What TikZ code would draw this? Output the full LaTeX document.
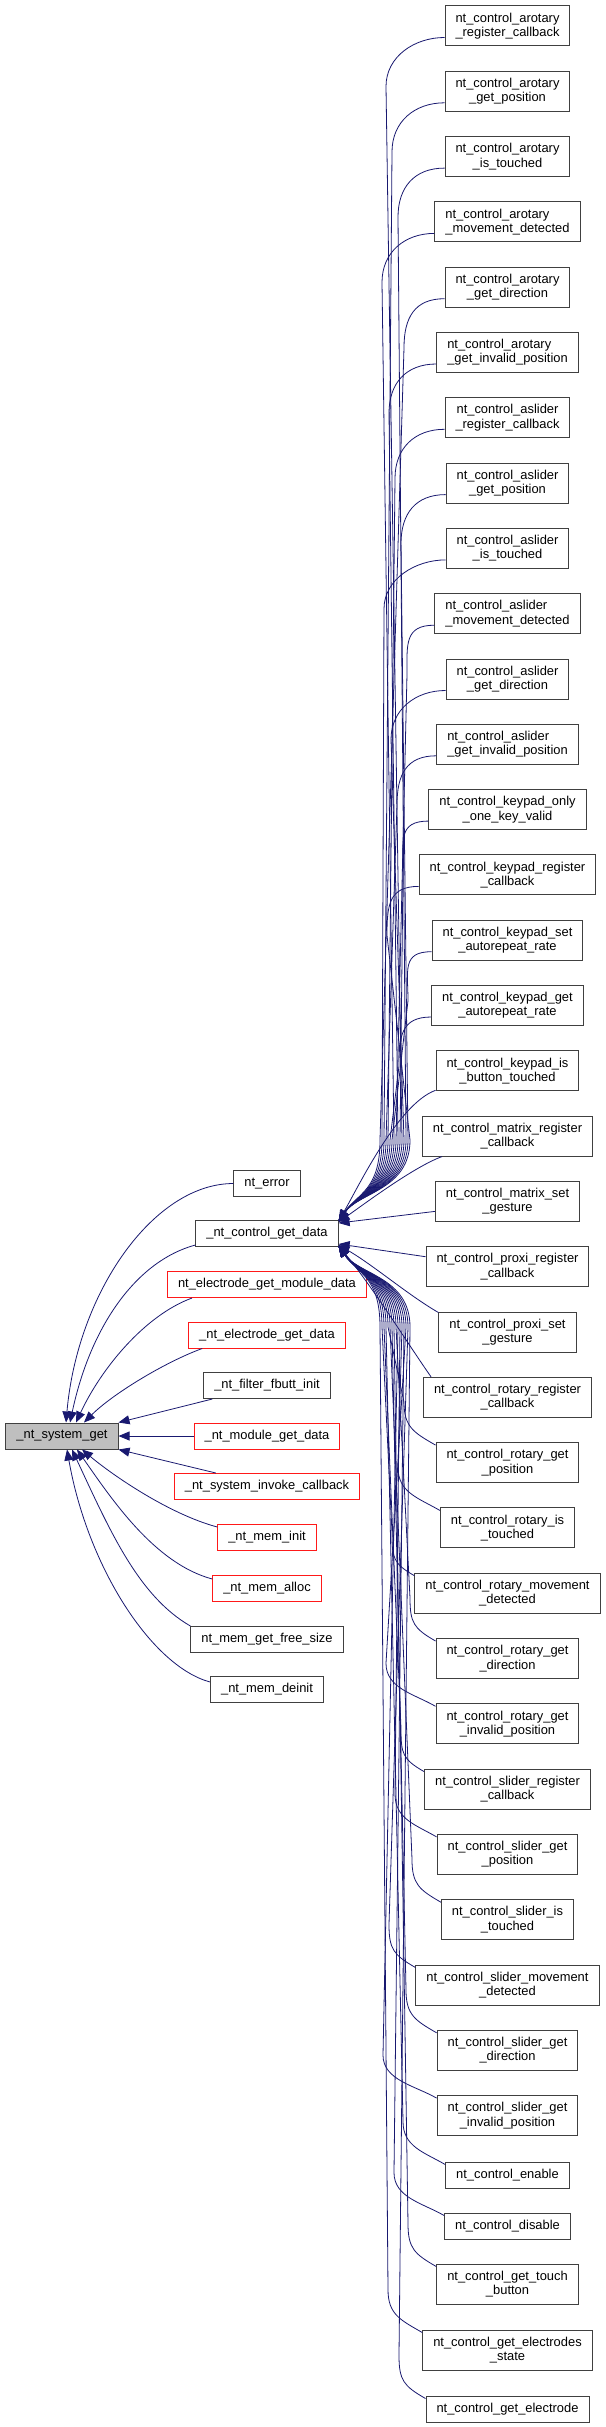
\documentclass[tikz,border=0pt]{standalone}
\usepackage{fontspec}
\setmainfont{Liberation Sans}
\usetikzlibrary{arrows.meta,calc}

\definecolor{edgeblue}{HTML}{191970}
\definecolor{boxline}{HTML}{404040}

\begin{document}
\begin{tikzpicture}[
  x=1pt,y=-1pt,
  >={Triangle[length=11pt,width=9pt]},
  caller/.style={draw=boxline,line width=1pt,fill=white,inner xsep=10.5pt,
    inner ysep=1pt,minimum height=26pt,align=center,
    font=\fontsize{12.9}{14.3}\selectfont},
  twoline/.style={caller,minimum height=40pt},
  twoleft/.style={twoline,align=left},
  truncated/.style={caller,draw=red!90!white},
  focus/.style={caller,fill=black!25},
  call/.style={->,draw=edgeblue,line width=0.8pt}
]
\path[fill=white] (0,0) rectangle (605,2427);
\useasboundingbox (0,0) rectangle (605,2427);
\coordinate (bus) at (392,0);

\node[focus] (sysget) at (62,1436) {\_nt\_system\_get};

\node[caller] (nterror) at (267,1183.5) {nt\_error};
\node[caller] (getdata) at (267,1233.5) {\_nt\_control\_get\_data};
\node[truncated] (moddata) at (267,1284.5) {nt\_electrode\_get\_module\_data};
\node[truncated] (elecdata) at (267,1335) {\_nt\_electrode\_get\_data};
\node[caller] (fbutt) at (267,1385.5) {\_nt\_filter\_fbutt\_init};
\node[truncated] (modget) at (267,1436) {\_nt\_module\_get\_data};
\node[truncated] (invoke) at (267,1486.5) {\_nt\_system\_invoke\_callback};
\node[truncated] (meminit) at (267,1537.5) {\_nt\_mem\_init};
\node[truncated] (memalloc) at (267,1588.5) {\_nt\_mem\_alloc};
\node[caller] (freesize) at (267,1639.5) {nt\_mem\_get\_free\_size};
\node[caller] (memdeinit) at (267,1689.5) {\_nt\_mem\_deinit};

\node[twoline] (arotreg) at (507.5,26) {nt\_control\_arotary\\\_register\_callback};
\node[twoline] (arotpos) at (507.5,91.3) {nt\_control\_arotary\\\_get\_position};
\node[twoline] (arottouch) at (507.5,156.6) {nt\_control\_arotary\\\_is\_touched};
\node[twoleft] (arotmove) at (507.5,221.9) {nt\_control\_arotary\\\_movement\_detected};
\node[twoline] (arotdir) at (507.5,287.2) {nt\_control\_arotary\\\_get\_direction};
\node[twoleft] (arotinv) at (507.5,352.5) {nt\_control\_arotary\\\_get\_invalid\_position};
\node[twoline] (aslreg) at (507.5,417.8) {nt\_control\_aslider\\\_register\_callback};
\node[twoline] (aslpos) at (507.5,483.1) {nt\_control\_aslider\\\_get\_position};
\node[twoline] (asltouch) at (507.5,548.4) {nt\_control\_aslider\\\_is\_touched};
\node[twoleft] (aslmove) at (507.5,613.7) {nt\_control\_aslider\\\_movement\_detected};
\node[twoline] (asldir) at (507.5,679) {nt\_control\_aslider\\\_get\_direction};
\node[twoleft] (aslinv) at (507.5,744.3) {nt\_control\_aslider\\\_get\_invalid\_position};
\node[twoline] (keyonly) at (507.5,809.6) {nt\_control\_keypad\_only\\\_one\_key\_valid};
\node[twoline] (keyreg) at (507.5,874.9) {nt\_control\_keypad\_register\\\_callback};
\node[twoline] (keyset) at (507.5,940.2) {nt\_control\_keypad\_set\\\_autorepeat\_rate};
\node[twoline] (keyget) at (507.5,1005.5) {nt\_control\_keypad\_get\\\_autorepeat\_rate};
\node[twoline] (keytouch) at (507.5,1070.8) {nt\_control\_keypad\_is\\\_button\_touched};
\node[twoline] (matreg) at (507.5,1136.1) {nt\_control\_matrix\_register\\\_callback};
\node[twoline] (matset) at (507.5,1201.4) {nt\_control\_matrix\_set\\\_gesture};
\node[twoline] (proxreg) at (507.5,1266.7) {nt\_control\_proxi\_register\\\_callback};
\node[twoline] (proxset) at (507.5,1332) {nt\_control\_proxi\_set\\\_gesture};
\node[twoline] (rotreg) at (507.5,1397.3) {nt\_control\_rotary\_register\\\_callback};
\node[twoline] (rotpos) at (507.5,1462.6) {nt\_control\_rotary\_get\\\_position};
\node[twoline] (rottouch) at (507.5,1527.9) {nt\_control\_rotary\_is\\\_touched};
\node[twoline] (rotmove) at (507.5,1593.2) {nt\_control\_rotary\_movement\\\_detected};
\node[twoline] (rotdir) at (507.5,1658.5) {nt\_control\_rotary\_get\\\_direction};
\node[twoline] (rotinv) at (507.5,1723.8) {nt\_control\_rotary\_get\\\_invalid\_position};
\node[twoline] (slreg) at (507.5,1789.1) {nt\_control\_slider\_register\\\_callback};
\node[twoline] (slpos) at (507.5,1854.4) {nt\_control\_slider\_get\\\_position};
\node[twoline] (sltouch) at (507.5,1919.7) {nt\_control\_slider\_is\\\_touched};
\node[twoline] (slmove) at (507.5,1985) {nt\_control\_slider\_movement\\\_detected};
\node[twoline] (sldir) at (507.5,2050.3) {nt\_control\_slider\_get\\\_direction};
\node[twoline] (slinv) at (507.5,2115.6) {nt\_control\_slider\_get\\\_invalid\_position};
\node[caller] (ctlenable) at (507.5,2175) {nt\_control\_enable};
\node[caller] (ctldisable) at (507.5,2226) {nt\_control\_disable};
\node[twoline] (touchbtn) at (507.5,2284) {nt\_control\_get\_touch\\\_button};
\node[twoline] (elecstate) at (507.5,2350) {nt\_control\_get\_electrodes\\\_state};
\node[caller] (elecget) at (507.5,2409) {nt\_control\_get\_electrode};

\draw[call] (nterror.west) to[out=180,in=85,out distance=80pt,in distance=130pt] ([xshift=4pt]sysget.north);
\draw[call] ([yshift=2pt]getdata.south west) to[out=195,in=78,out distance=60pt,in distance=100pt] ([xshift=8pt]sysget.north);
\draw[call] ([xshift=25pt]moddata.south west) to[out=200,in=65,out distance=50pt,in distance=60pt] ([xshift=14pt]sysget.north);
\draw[call] ([xshift=14pt]elecdata.south west) to[out=200,in=45,out distance=40pt,in distance=40pt] ([xshift=22pt]sysget.north);
\draw[call] ([xshift=9pt]fbutt.south west) -- (sysget.north east);
\draw[call] (modget.west) -- (sysget.east);
\draw[call] ([xshift=42pt]invoke.north west) -- (sysget.south east);
\draw[call] ([yshift=-3pt]meminit.north west) to[out=165,in=-40,out distance=50pt,in distance=40pt] ([xshift=20pt]sysget.south);
\draw[call] ([yshift=-4pt]memalloc.north west) to[out=165,in=-55,out distance=60pt,in distance=60pt] ([xshift=15pt]sysget.south);
\draw[call] (freesize.north west) to[out=150,in=-65,out distance=60pt,in distance=90pt] ([xshift=10pt]sysget.south);
\draw[call] ([yshift=-6pt]memdeinit.north west) to[out=165,in=-80,out distance=60pt,in distance=120pt] ([xshift=5pt]sysget.south);

\draw[call] ([yshift=9pt]arotreg.south west) to[out=180,in=90,out distance=30pt,in distance=30pt] ($(arotreg.south west -| bus)+(-6,40)$) -- ($(getdata.north east -| bus)+(10,-80)$) to[out=-90,in=55,out distance=50pt,in distance=35pt] ([yshift=-1pt]getdata.north east);
\draw[call] ([yshift=9pt]arotpos.south west) to[out=180,in=90,out distance=30pt,in distance=30pt] ($(arotpos.south west -| bus)+(0,40)$) -- ($(getdata.north east -| bus)+(-8,-80)$) to[out=-90,in=55,out distance=50pt,in distance=35pt] ([yshift=-1pt]getdata.north east);
\draw[call] ([yshift=9pt]arottouch.south west) to[out=180,in=90,out distance=30pt,in distance=30pt] ($(arottouch.south west -| bus)+(6,40)$) -- ($(getdata.north east -| bus)+(14,-80)$) to[out=-90,in=55,out distance=50pt,in distance=35pt] ([yshift=-1pt]getdata.north east);
\draw[call] ([yshift=9pt]arotmove.south west) to[out=180,in=90,out distance=30pt,in distance=30pt] ($(arotmove.south west -| bus)+(-10,40)$) -- ($(getdata.north east -| bus)+(2,-80)$) to[out=-90,in=55,out distance=50pt,in distance=35pt] ([yshift=-1pt]getdata.north east);
\draw[call] ([yshift=9pt]arotdir.south west) to[out=180,in=90,out distance=30pt,in distance=30pt] ($(arotdir.south west -| bus)+(12,40)$) -- ($(getdata.north east -| bus)+(-12,-80)$) to[out=-90,in=55,out distance=50pt,in distance=35pt] ([yshift=-1pt]getdata.north east);
\draw[call] ([yshift=9pt]arotinv.south west) to[out=180,in=90,out distance=30pt,in distance=30pt] ($(arotinv.south west -| bus)+(-3,40)$) -- ($(getdata.north east -| bus)+(6,-80)$) to[out=-90,in=55,out distance=50pt,in distance=35pt] ([yshift=-1pt]getdata.north east);
\draw[call] ([yshift=9pt]aslreg.south west) to[out=180,in=90,out distance=30pt,in distance=30pt] ($(aslreg.south west -| bus)+(3,40)$) -- ($(getdata.north east -| bus)+(-4,-80)$) to[out=-90,in=55,out distance=50pt,in distance=35pt] ([yshift=-1pt]getdata.north east);
\draw[call] ([yshift=9pt]aslpos.south west) to[out=180,in=90,out distance=30pt,in distance=30pt] ($(aslpos.south west -| bus)+(9,40)$) -- ($(getdata.north east -| bus)+(16,-80)$) to[out=-90,in=55,out distance=50pt,in distance=35pt] ([yshift=-1pt]getdata.north east);
\draw[call] ([yshift=9pt]asltouch.south west) to[out=180,in=90,out distance=30pt,in distance=30pt] ($(asltouch.south west -| bus)+(-8,40)$) -- ($(getdata.north east -| bus)+(-10,-80)$) to[out=-90,in=55,out distance=50pt,in distance=35pt] ([yshift=-1pt]getdata.north east);
\draw[call] ([yshift=9pt]aslmove.south west) to[out=180,in=90,out distance=30pt,in distance=30pt] ($(aslmove.south west -| bus)+(15,40)$) -- ($(getdata.north east -| bus)+(4,-80)$) to[out=-90,in=55,out distance=50pt,in distance=35pt] ([yshift=-1pt]getdata.north east);
\draw[call] ([yshift=9pt]asldir.south west) to[out=180,in=90,out distance=30pt,in distance=30pt] ($(asldir.south west -| bus)+(-1,40)$) -- ($(getdata.north east -| bus)+(12,-80)$) to[out=-90,in=55,out distance=50pt,in distance=35pt] ([yshift=-1pt]getdata.north east);
\draw[call] ([yshift=9pt]aslinv.south west) to[out=180,in=90,out distance=30pt,in distance=30pt] ($(aslinv.south west -| bus)+(5,40)$) -- ($(getdata.north east -| bus)+(-6,-80)$) to[out=-90,in=55,out distance=50pt,in distance=35pt] ([yshift=-1pt]getdata.north east);
\draw[call] ([yshift=9pt]keyonly.south west) to[out=180,in=90,out distance=30pt,in distance=30pt] ($(keyonly.south west -| bus)+(11,40)$) -- ($(getdata.north east -| bus)+(8,-80)$) to[out=-90,in=55,out distance=50pt,in distance=35pt] ([yshift=-1pt]getdata.north east);
\draw[call] ([yshift=9pt]keyreg.south west) to[out=180,in=90,out distance=30pt,in distance=30pt] ($(keyreg.south west -| bus)+(-5,40)$) -- ($(getdata.north east -| bus)+(18,-80)$) to[out=-90,in=55,out distance=50pt,in distance=35pt] ([yshift=-1pt]getdata.north east);
\draw[call] ([yshift=9pt]keyset.south west) to[out=180,in=90,out distance=30pt,in distance=30pt] ($(keyset.south west -| bus)+(16,40)$) -- ($(getdata.north east -| bus)+(0,-80)$) to[out=-90,in=55,out distance=50pt,in distance=35pt] ([yshift=-1pt]getdata.north east);
\draw[call] ([yshift=9pt]keyget.south west) to[out=180,in=90,out distance=30pt,in distance=30pt] ($(keyget.south west -| bus)+(7,40)$) -- ($(getdata.north east -| bus)+(-2,-80)$) to[out=-90,in=55,out distance=50pt,in distance=35pt] ([yshift=-1pt]getdata.north east);
\draw[call] ([yshift=1pt]keytouch.south west) to[out=200,in=60,out distance=40pt,in distance=40pt] ([yshift=-1pt]getdata.north east);
\draw[call] ([xshift=20pt]matreg.south west) to[out=200,in=35,out distance=30pt,in distance=30pt] ([yshift=-2pt]getdata.north east);
\draw[call] ([yshift=-10pt]matset.west) -- ([yshift=-3pt]getdata.north east);
\draw[call] ([yshift=10pt]proxreg.west) -- ([yshift=3pt]getdata.south east);
\draw[call] ([yshift=-1pt]proxset.north west) to[out=150,in=-30,out distance=35pt,in distance=40pt] ([yshift=2pt]getdata.south east);
\draw[call] ([xshift=8pt]rotreg.north west) to[out=125,in=-50,out distance=40pt,in distance=50pt] ([yshift=1pt]getdata.south east);

\draw[call] ([yshift=-3pt]rotpos.north west) to[out=150,in=-90,out distance=25pt,in distance=25pt] ($(rotpos.north west -| bus)+(12,-40)$) -- ($(getdata.south east -| bus)+(-4,80)$) to[out=90,in=-55,out distance=50pt,in distance=35pt] ([yshift=1pt]getdata.south east);
\draw[call] ([yshift=-3pt]rottouch.north west) to[out=150,in=-90,out distance=25pt,in distance=25pt] ($(rottouch.north west -| bus)+(6,-40)$) -- ($(getdata.south east -| bus)+(10,80)$) to[out=90,in=-55,out distance=50pt,in distance=35pt] ([yshift=1pt]getdata.south east);
\draw[call] ([yshift=-3pt]rotmove.north west) to[out=150,in=-90,out distance=25pt,in distance=25pt] ($(rotmove.north west -| bus)+(0,-40)$) -- ($(getdata.south east -| bus)+(-10,80)$) to[out=90,in=-55,out distance=50pt,in distance=35pt] ([yshift=1pt]getdata.south east);
\draw[call] ([yshift=-3pt]rotdir.north west) to[out=150,in=-90,out distance=25pt,in distance=25pt] ($(rotdir.north west -| bus)+(18,-40)$) -- ($(getdata.south east -| bus)+(4,80)$) to[out=90,in=-55,out distance=50pt,in distance=35pt] ([yshift=1pt]getdata.south east);
\draw[call] ([yshift=-3pt]rotinv.north west) to[out=150,in=-90,out distance=25pt,in distance=25pt] ($(rotinv.north west -| bus)+(-6,-40)$) -- ($(getdata.south east -| bus)+(14,80)$) to[out=90,in=-55,out distance=50pt,in distance=35pt] ([yshift=1pt]getdata.south east);
\draw[call] ([yshift=-3pt]slreg.north west) to[out=150,in=-90,out distance=25pt,in distance=25pt] ($(slreg.north west -| bus)+(9,-40)$) -- ($(getdata.south east -| bus)+(-8,80)$) to[out=90,in=-55,out distance=50pt,in distance=35pt] ([yshift=1pt]getdata.south east);
\draw[call] ([yshift=-3pt]slpos.north west) to[out=150,in=-90,out distance=25pt,in distance=25pt] ($(slpos.north west -| bus)+(3,-40)$) -- ($(getdata.south east -| bus)+(8,80)$) to[out=90,in=-55,out distance=50pt,in distance=35pt] ([yshift=1pt]getdata.south east);
\draw[call] ([yshift=-3pt]sltouch.north west) to[out=150,in=-90,out distance=25pt,in distance=25pt] ($(sltouch.north west -| bus)+(20,-40)$) -- ($(getdata.south east -| bus)+(-2,80)$) to[out=90,in=-55,out distance=50pt,in distance=35pt] ([yshift=1pt]getdata.south east);
\draw[call] ([yshift=-3pt]slmove.north west) to[out=150,in=-90,out distance=25pt,in distance=25pt] ($(slmove.north west -| bus)+(-3,-40)$) -- ($(getdata.south east -| bus)+(16,80)$) to[out=90,in=-55,out distance=50pt,in distance=35pt] ([yshift=1pt]getdata.south east);
\draw[call] ([yshift=-3pt]sldir.north west) to[out=150,in=-90,out distance=25pt,in distance=25pt] ($(sldir.north west -| bus)+(14,-40)$) -- ($(getdata.south east -| bus)+(0,80)$) to[out=90,in=-55,out distance=50pt,in distance=35pt] ([yshift=1pt]getdata.south east);
\draw[call] ([yshift=-3pt]slinv.north west) to[out=150,in=-90,out distance=25pt,in distance=25pt] ($(slinv.north west -| bus)+(-9,-40)$) -- ($(getdata.south east -| bus)+(6,80)$) to[out=90,in=-55,out distance=50pt,in distance=35pt] ([yshift=1pt]getdata.south east);
\draw[call] ([yshift=-3pt]ctlenable.north west) to[out=150,in=-90,out distance=25pt,in distance=25pt] ($(ctlenable.north west -| bus)+(11,-40)$) -- ($(getdata.south east -| bus)+(-6,80)$) to[out=90,in=-55,out distance=50pt,in distance=35pt] ([yshift=1pt]getdata.south east);
\draw[call] ([yshift=-3pt]ctldisable.north west) to[out=150,in=-90,out distance=25pt,in distance=25pt] ($(ctldisable.north west -| bus)+(2,-40)$) -- ($(getdata.south east -| bus)+(12,80)$) to[out=90,in=-55,out distance=50pt,in distance=35pt] ([yshift=1pt]getdata.south east);
\draw[call] ([yshift=-3pt]touchbtn.north west) to[out=150,in=-90,out distance=25pt,in distance=25pt] ($(touchbtn.north west -| bus)+(16,-40)$) -- ($(getdata.south east -| bus)+(2,80)$) to[out=90,in=-55,out distance=50pt,in distance=35pt] ([yshift=1pt]getdata.south east);
\draw[call] ([yshift=-3pt]elecstate.north west) to[out=150,in=-90,out distance=25pt,in distance=25pt] ($(elecstate.north west -| bus)+(-4,-40)$) -- ($(getdata.south east -| bus)+(-12,80)$) to[out=90,in=-55,out distance=50pt,in distance=35pt] ([yshift=1pt]getdata.south east);
\draw[call] ([yshift=-3pt]elecget.north west) to[out=150,in=-90,out distance=25pt,in distance=25pt] ($(elecget.north west -| bus)+(7,-40)$) -- ($(getdata.south east -| bus)+(18,80)$) to[out=90,in=-55,out distance=50pt,in distance=35pt] ([yshift=1pt]getdata.south east);
\end{tikzpicture}
\end{document}
